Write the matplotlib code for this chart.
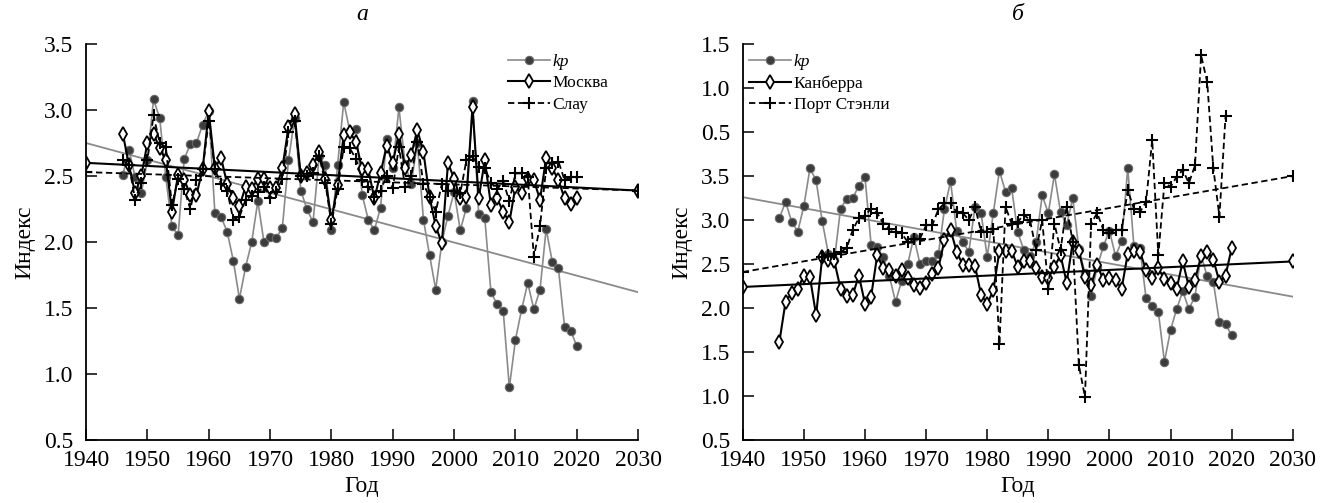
import matplotlib
matplotlib.use("Agg")
import matplotlib.pyplot as plt

plt.rcParams['font.family'] = ['Liberation Serif', 'DejaVu Serif']

# ---------------------------------------------------------------- data
years = list(range(1946, 2021))
years_ps = list(range(1953, 2020))

# panel a
kp_a = [2.51, 2.70, 2.49, 2.37, 2.62, 3.08, 2.94, 2.49, 2.12, 2.05,
        2.63, 2.74, 2.75, 2.89, 2.99, 2.22, 2.19, 2.08, 1.86, 1.57,
        1.81, 2.00, 2.31, 2.00, 2.04, 2.03, 2.11, 2.62, 2.94, 2.39,
        2.25, 2.15, 2.65, 2.58, 2.09, 2.58, 3.06, 2.84, 2.86, 2.36,
        2.17, 2.09, 2.26, 2.78, 2.56, 3.02, 2.59, 2.44, 2.75, 2.17,
        1.90, 1.64, 2.00, 2.20, 2.38, 2.09, 2.26, 3.07, 2.21, 2.18,
        1.62, 1.53, 1.48, 0.90, 1.26, 1.49, 1.69, 1.49, 1.64, 2.10,
        1.85, 1.80, 1.36, 1.33, 1.21]
moscow = [2.82, 2.58, 2.37, 2.50, 2.75, 2.82, 2.71, 2.62, 2.23, 2.51,
          2.47, 2.36, 2.36, 2.55, 2.99, 2.56, 2.64, 2.44, 2.33, 2.27,
          2.42, 2.40, 2.48, 2.48, 2.41, 2.41, 2.56, 2.87, 2.97, 2.50,
          2.52, 2.58, 2.68, 2.48, 2.17, 2.43, 2.81, 2.83, 2.76, 2.55,
          2.55, 2.33, 2.52, 2.73, 2.60, 2.82, 2.56, 2.66, 2.85, 2.68,
          2.34, 2.12, 1.99, 2.60, 2.48, 2.33, 2.34, 3.02, 2.33, 2.62,
          2.28, 2.33, 2.23, 2.15, 2.42, 2.37, 2.48, 2.47, 2.32, 2.64,
          2.56, 2.47, 2.33, 2.29, 2.33]
slough = [2.62, 2.58, 2.32, 2.45, 2.62, 2.96, 2.75, 2.72, 2.28, 2.48,
          2.40, 2.25, 2.47, 2.55, 2.92, 2.55, 2.44, 2.39, 2.17, 2.19,
          2.32, 2.35, 2.38, 2.42, 2.33, 2.38, 2.48, 2.83, 2.92, 2.50,
          2.50, 2.52, 2.65, 2.45, 2.14, 2.40, 2.72, 2.71, 2.63, 2.47,
          2.42, 2.34, 2.39, 2.50, 2.41, 2.72, 2.42, 2.50, 2.76, 2.44,
          2.34, 2.23, 2.44, 2.39, 2.39, 2.37, 2.62, 2.65, 2.57, 2.56,
          2.45, 2.40, 2.46, 2.31, 2.52, 2.52, 2.49, 1.89, 2.12, 2.56,
          2.60, 2.61, 2.47, 2.49, 2.49]

# panel b
kp_b = [3.02, 3.21, 2.98, 2.87, 3.16, 3.59, 3.45, 2.99, 2.62, 2.55,
        3.13, 3.24, 3.25, 3.39, 3.49, 2.72, 2.69, 2.58, 2.36, 2.07,
        2.31, 2.50, 2.81, 2.50, 2.54, 2.53, 2.61, 3.12, 3.44, 2.88,
        2.75, 2.64, 3.15, 3.08, 2.58, 3.08, 3.56, 3.32, 3.36, 2.86,
        2.66, 2.59, 2.75, 3.28, 3.08, 3.52, 3.09, 2.94, 3.25, 2.67,
        2.40, 2.14, 2.47, 2.70, 2.88, 2.59, 2.76, 3.59, 2.71, 2.68,
        2.11, 2.02, 1.96, 1.39, 1.75, 1.99, 2.19, 1.99, 2.13, 2.60,
        2.36, 2.30, 1.84, 1.82, 1.69]
canberra = [1.62, 2.07, 2.17, 2.22, 2.37, 2.35, 1.92, 2.58, 2.55, 2.53,
            2.22, 2.14, 2.15, 2.37, 2.05, 2.13, 2.60, 2.45, 2.43, 2.36,
            2.43, 2.34, 2.26, 2.23, 2.29, 2.39, 2.45, 2.77, 2.89, 2.64,
            2.49, 2.49, 2.48, 2.15, 2.05, 2.20, 2.65, 2.65, 2.65, 2.47,
            2.53, 2.53, 2.46, 2.35, 2.34, 2.47, 2.60, 2.29, 2.75, 2.65,
            2.35, 2.26, 2.49, 2.32, 2.34, 2.32, 2.22, 2.62, 2.65, 2.64,
            2.43, 2.34, 2.45, 2.33, 2.28, 2.22, 2.53, 2.24, 2.32, 2.59,
            2.64, 2.55, 2.30, 2.37, 2.68]
port_stanley = [2.58, 2.60, 2.62, 2.64, 2.68, 2.89, 3.02, 3.05, 3.13, 3.08,
                2.96, 2.90, 2.87, 2.85, 2.75, 2.79, 2.79, 2.94, 2.94, 3.12,
                3.19, 3.19, 3.09, 3.08, 3.00, 3.15, 2.87, 2.87, 2.90, 1.59,
                3.15, 2.96, 2.98, 3.06, 3.00, 2.66, 3.00, 2.22, 2.96, 2.66,
                3.15, 2.75, 1.35, 0.99, 2.96, 3.08, 2.89, 2.85, 2.89, 2.89,
                3.34, 3.13, 3.09, 3.21, 3.91, 2.60, 3.42, 3.38, 3.49, 3.57,
                3.42, 3.62, 4.87, 4.57, 3.59, 3.04, 4.18]

# linear trends (end points)
trend_years = [1940, 2030]
trend_kp_a = [2.75, 1.62]
trend_moscow = [2.60, 2.39]
trend_slough = [2.53, 2.39]
trend_kp_b = [3.26, 2.13]
trend_canberra = [2.24, 2.53]
trend_ps = [2.41, 3.50]

xticks = list(range(1940, 2031, 10))
yticks_a = [0.5, 1.0, 1.5, 2.0, 2.5, 3.0, 3.5]
yticks_b = [0.5, 1.0, 1.5, 2.0, 2.5, 3.0, 3.5, 4.0, 4.5, 5.0]
ylabels_b = ['0.5', '1.0', '1.5', '2.0', '2.5', '3.0', '3.5', '0.5', '1.0', '1.5']

# ---------------------------------------------------------------- style
gray = '#8a8a8a'
kp_style = dict(color=gray, lw=1.2, marker='o', ms=6,
                mfc='#3c3c3c', mec='#6a6a6a', mew=0.8)
dia_style = dict(color='black', lw=1.5, marker='d', ms=7.5,
                 mfc='white', mec='black', mew=1.3)
plus_style = dict(color='black', lw=1.3, ls='--', marker='+', ms=8, mew=1.5,
                  dashes=(3.5, 2))

fig = plt.figure(figsize=(13.24, 5.03), dpi=100)
ax_a = fig.add_axes([0.065, 0.125, 0.417, 0.7875])
ax_b = fig.add_axes([0.561, 0.125, 0.4154, 0.7875])


def decorate(ax, title, yticks, ylabels=None):
    ax.set_xlim(1940, 2030)
    ax.set_ylim(yticks[0], yticks[-1])
    ax.set_xticks(xticks)
    ax.set_yticks(yticks)
    if ylabels is not None:
        ax.set_yticklabels(ylabels)
    else:
        ax.set_yticklabels([f'{t:.1f}' for t in yticks])
    for s in ['top', 'right']:
        ax.spines[s].set_visible(False)
    for s in ['left', 'bottom']:
        ax.spines[s].set_linewidth(1.3)
    ax.tick_params(direction='in', length=8, width=1.1, labelsize=17)
    ax.tick_params(axis='x', pad=7)
    ax.tick_params(axis='y', pad=9)
    ax.set_xlabel('Год', fontsize=17, labelpad=4)
    ax.set_ylabel('Индекс', fontsize=17, labelpad=6)
    ax.set_title(title, fontsize=17, style='italic', pad=17)


# panel a
ax_a.plot(trend_years, trend_kp_a, color=gray, lw=1.3)
ax_a.plot(years, kp_a, label='kp', **kp_style)
ax_a.plot(years, moscow, label='Москва', **dia_style)
ax_a.plot(years, slough, label='Слау', **plus_style)
ax_a.plot(trend_years, trend_moscow, **dia_style)
ax_a.plot(trend_years, trend_slough, **plus_style)
decorate(ax_a, 'а', yticks_a)

# panel b
ax_b.plot(trend_years, trend_kp_b, color=gray, lw=1.3)
ax_b.plot(years, kp_b, label='kp', **kp_style)
ax_b.plot(years, canberra, label='Канберра', **dia_style)
ax_b.plot(years_ps, port_stanley, label='Порт Стэнли', **plus_style)
ax_b.plot(trend_years, trend_canberra, **dia_style)
ax_b.plot(trend_years, trend_ps, **plus_style)
decorate(ax_b, 'б', yticks_b, ylabels_b)

for ax, anchor in [(ax_a, (0.765, 0.975)), (ax_b, (0.012, 0.975))]:
    leg = ax.legend(loc='upper left', bbox_to_anchor=anchor, frameon=False,
                    fontsize=12.5, handlelength=2.4, handletextpad=0.15,
                    labelspacing=0.3, borderpad=0, borderaxespad=0)
    leg.get_texts()[0].set_fontstyle('italic')

fig.savefig('out.png', dpi=100)
